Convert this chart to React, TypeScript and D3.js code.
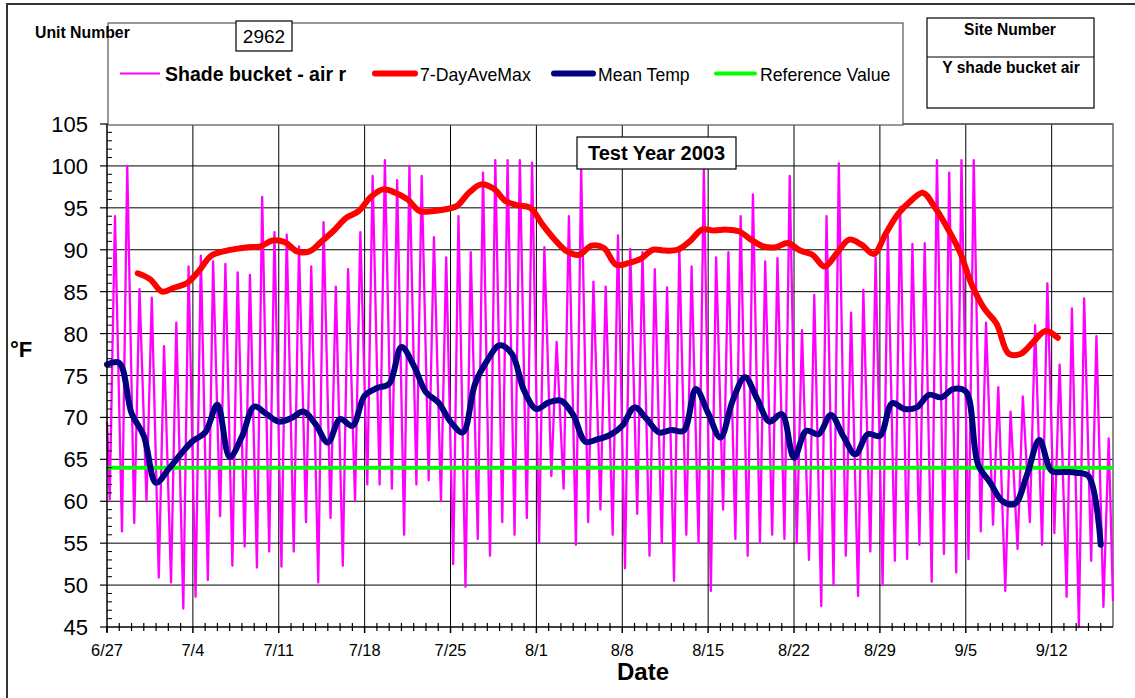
import { useEffect, useRef } from "react"
import * as d3 from "d3"

// days since 6/27/2003, axis runs 6/27 .. 9/17
const dayCount = 82
const xTickLabels = ["6/27", "7/4", "7/11", "7/18", "7/25", "8/1", "8/8", "8/15", "8/22", "8/29", "9/5", "9/12"]
const yTicks = [45, 50, 55, 60, 65, 70, 75, 80, 85, 90, 95, 100, 105]

// shade bucket air temp, one low (early morning) and one high (afternoon) per day
const dailyLow = [
  60.2, 56.4, 57.4, 60.0, 50.9, 50.3, 47.2, 48.6, 50.6, 58.2,
  52.3, 54.6, 52.1, 54.0, 52.2, 54.0, 57.5, 50.3, 58.0, 52.3,
  60.0, 62.0, 62.0, 61.5, 56.0, 62.0, 62.5, 60.0, 52.5, 49.8,
  55.5, 53.5, 57.5, 56.0, 58.0, 55.0, 63.0, 61.5, 54.8, 57.5,
  59.0, 56.0, 52.0, 58.5, 53.5, 55.0, 50.5, 56.0, 55.0, 49.3,
  59.0, 55.5, 53.5, 55.0, 56.0, 55.5, 55.0, 53.0, 47.5, 50.0,
  53.5, 48.7, 54.0, 50.0, 52.9, 53.1, 54.8, 50.4, 53.7, 51.5,
  53.1, 56.4, 57.2, 49.3, 54.3, 57.5, 54.8, 56.2, 48.6, 45.0,
  52.9, 47.4,
]
const dailyHigh = [
  94.0, 100.0, 85.3, 84.3, 78.5, 81.3, 88.0, 89.3, 88.6, 88.3,
  87.3, 87.0, 96.3, 92.1, 91.8, 90.4, 88.0, 93.3, 85.6, 87.7,
  92.1, 98.8, 100.7, 98.3, 100.0, 98.8, 91.5, 89.1, 94.0, 89.7,
  99.2, 100.7, 100.7, 100.7, 100.4, 90.3, 79.0, 94.0, 99.6, 86.2,
  85.6, 91.7, 90.1, 89.7, 87.7, 85.5, 90.1, 88.0, 99.6, 89.1,
  89.7, 94.0, 96.6, 88.6, 89.0, 98.8, 80.4, 84.6, 94.0, 100.3,
  82.5, 85.2, 89.1, 91.7, 95.1, 90.7, 90.8, 100.7, 99.2, 100.7,
  100.7, 81.3, 73.6, 70.7, 72.5, 81.0, 86.0, 76.3, 83.0, 84.2,
  79.7, 67.5,
]
const airFirst = 69.5
const airLast = 48.1

// daily mean, day 0 .. 81
const meanTemp = [
  76.3, 76.5, 70.5, 67.8, 62.2, 63.8, 65.6, 67.2, 68.2, 71.5,
  65.3, 67.7, 71.3, 70.4, 69.5, 69.9, 70.7, 69.2, 67.0, 69.8,
  69.0, 72.6, 73.5, 74.0, 78.4, 76.2, 73.0, 71.8, 69.5, 68.2,
  74.0, 76.8, 78.6, 77.6, 73.2, 71.0, 71.8, 72.0, 70.3, 67.1,
  67.4, 67.9, 69.0, 71.2, 69.8, 68.2, 68.5, 68.4, 73.4, 70.5,
  67.6, 72.0, 74.8, 72.2, 69.5, 70.4, 65.2, 68.4, 68.0, 70.3,
  67.8, 65.6, 68.0, 67.8, 71.7, 71.0, 71.2, 72.7, 72.4, 73.4,
  73.1, 64.4, 62.2, 60.0, 59.7, 63.2, 67.3, 63.6, 63.5, 63.4,
  63.0, 54.8,
]

// 7 day average of daily max, starts day 2.5
const aveMaxStart = 2.5
const aveMax7 = [
  87.2, 86.5, 85.0, 85.5, 86.0, 87.5, 89.3, 89.8, 90.1, 90.3,
  90.4, 91.1, 90.9, 89.8, 89.8, 91.0, 92.3, 93.8, 94.6, 96.3,
  97.2, 96.8, 96.0, 94.6, 94.6, 94.8, 95.2, 96.8, 97.8, 97.3,
  95.8, 95.3, 95.0, 93.0, 91.2, 89.8, 89.4, 90.5, 90.2, 88.2,
  88.4, 88.9, 90.0, 89.9, 90.0, 91.0, 92.4, 92.3, 92.4, 92.2,
  91.2, 90.4, 90.3, 90.8, 89.9, 89.4, 88.0, 89.6, 91.2, 90.6,
  89.5, 92.0, 94.3, 95.8, 96.8, 95.0, 92.6, 89.8, 85.8, 83.0,
  81.2, 77.6, 77.6, 79.0, 80.3, 79.5,
]

const referenceValue = 64

const seriesNames = ["Shade bucket - air r", "7-DayAveMax", "Mean Temp", "Reference Value"]
const seriesColors = ["#FF00FF", "#FF0000", "#000080", "#00FF00"]

const font = "'Liberation Sans', Arial, sans-serif"

export default function App() {
  const svgRef = useRef<SVGSVGElement>(null)

  useEffect(() => {
    if (!svgRef.current) return
    document.body.style.margin = "0"

    const svg = d3.select(svgRef.current)
    svg.selectAll("*").remove()

    const left = 107
    const right = 1113
    const top = 124
    const bottom = 627

    const x = d3.scaleLinear().domain([0, dayCount]).range([left, right])
    const y = d3.scaleLinear().domain([45, 105]).range([bottom, top])

    svg.append("rect").attr("width", 1135).attr("height", 698).attr("fill", "#fff")

    // outer chart frame
    svg
      .append("path")
      .attr("d", "M7,700 L7,4 L1140,4")
      .attr("fill", "none")
      .attr("stroke", "#333")
      .attr("stroke-width", 2)

    const grid = svg.append("g")
    grid
      .selectAll("line.h")
      .data(yTicks.slice(1))
      .enter()
      .append("line")
      .attr("x1", left)
      .attr("x2", right)
      .attr("y1", (d) => y(d))
      .attr("y2", (d) => y(d))
      .attr("stroke", "#000")
      .attr("stroke-width", 1)
    grid
      .selectAll("line.v")
      .data(xTickLabels.slice(1).map((_, i) => (i + 1) * 7))
      .enter()
      .append("line")
      .attr("x1", (d) => x(d))
      .attr("x2", (d) => x(d))
      .attr("y1", top)
      .attr("y2", bottom)
      .attr("stroke", "#000")
      .attr("stroke-width", 1)

    // plot border
    svg
      .append("path")
      .attr("d", `M${left},${top} L${right},${top} L${right},${bottom}`)
      .attr("fill", "none")
      .attr("stroke", "#666")
      .attr("stroke-width", 1.5)

    const plot = svg.append("g")

    const airPts: [number, number][] = [[0, airFirst]]
    dailyLow.forEach((lo, k) => {
      airPts.push([k + 0.22, lo])
      airPts.push([k + 0.65, dailyHigh[k]])
    })
    airPts.push([dayCount, airLast])

    const straight = d3
      .line<[number, number]>()
      .x((d) => x(d[0]))
      .y((d) => y(d[1]))
    const smooth = d3
      .line<[number, number]>()
      .x((d) => x(d[0]))
      .y((d) => y(d[1]))
      .curve(d3.curveCatmullRom.alpha(0.5))

    plot
      .append("path")
      .attr("d", straight(airPts))
      .attr("fill", "none")
      .attr("stroke", seriesColors[0])
      .attr("stroke-width", 2.3)
      .attr("stroke-linejoin", "round")

    plot
      .append("line")
      .attr("x1", x(0))
      .attr("x2", x(dayCount))
      .attr("y1", y(referenceValue))
      .attr("y2", y(referenceValue))
      .attr("stroke", seriesColors[3])
      .attr("stroke-width", 4)

    const redPts: [number, number][] = aveMax7.map((v, i) => [aveMaxStart + i, v])
    plot
      .append("path")
      .attr("d", smooth(redPts))
      .attr("fill", "none")
      .attr("stroke", seriesColors[1])
      .attr("stroke-width", 6)
      .attr("stroke-linecap", "round")
      .attr("stroke-linejoin", "round")

    const meanPts: [number, number][] = meanTemp.map((v, i) => [i, v])
    plot
      .append("path")
      .attr("d", smooth(meanPts))
      .attr("fill", "none")
      .attr("stroke", seriesColors[2])
      .attr("stroke-width", 6)
      .attr("stroke-linecap", "round")
      .attr("stroke-linejoin", "round")

    // axes
    const axes = svg.append("g").attr("stroke", "#000")
    axes.append("line").attr("x1", left).attr("x2", left).attr("y1", top).attr("y2", bottom + 5).attr("stroke-width", 1.5)
    axes.append("line").attr("x1", left).attr("x2", right).attr("y1", bottom).attr("y2", bottom).attr("stroke-width", 1.5)

    axes
      .selectAll("line.ymaj")
      .data(yTicks)
      .enter()
      .append("line")
      .attr("x1", left - 7)
      .attr("x2", left)
      .attr("y1", (d) => y(d))
      .attr("y2", (d) => y(d))
      .attr("stroke-width", 1.2)
    axes
      .selectAll("line.ymin")
      .data(d3.range(46, 105).filter((v) => v % 5 !== 0))
      .enter()
      .append("line")
      .attr("x1", left)
      .attr("x2", left + 5)
      .attr("y1", (d) => y(d))
      .attr("y2", (d) => y(d))
      .attr("stroke-width", 1)

    axes
      .selectAll("line.xmin")
      .data(d3.range(1, dayCount).filter((d) => d % 7 !== 0))
      .enter()
      .append("line")
      .attr("x1", (d) => x(d))
      .attr("x2", (d) => x(d))
      .attr("y1", bottom - 4)
      .attr("y2", bottom + 4)
      .attr("stroke-width", 1.2)
    axes
      .selectAll("line.xmaj")
      .data(xTickLabels.map((_, i) => i * 7))
      .enter()
      .append("line")
      .attr("x1", (d) => x(d))
      .attr("x2", (d) => x(d))
      .attr("y1", bottom)
      .attr("y2", bottom + 6)
      .attr("stroke-width", 1.5)

    svg
      .append("g")
      .selectAll("text")
      .data(yTicks)
      .enter()
      .append("text")
      .attr("x", 88)
      .attr("y", (d) => y(d) + 8)
      .attr("text-anchor", "end")
      .style("font-family", font)
      .style("font-size", "22px")
      .text((d) => d)

    svg
      .append("g")
      .selectAll("text")
      .data(xTickLabels)
      .enter()
      .append("text")
      .attr("x", (_, i) => x(i * 7))
      .attr("y", 656)
      .attr("text-anchor", "middle")
      .style("font-family", font)
      .style("font-size", "16.4px")
      .text((d) => d)

    svg
      .append("text")
      .attr("x", 643)
      .attr("y", 680)
      .attr("text-anchor", "middle")
      .style("font-family", font)
      .style("font-size", "24px")
      .style("font-weight", "bold")
      .text("Date")

    svg
      .append("text")
      .attr("x", 10)
      .attr("y", 357)
      .style("font-family", font)
      .style("font-size", "22px")
      .style("font-weight", "bold")
      .text("°F")

    // legend box
    const leg = svg.append("g")
    leg
      .append("rect")
      .attr("x", 108)
      .attr("y", 23)
      .attr("width", 795)
      .attr("height", 102)
      .attr("fill", "#fff")
      .attr("stroke", "#555")
      .attr("stroke-width", 1.2)
    const legItems = [
      { x1: 120, x2: 160, tx: 165, w: 2, bold: true, size: 19.5 },
      { x1: 375, x2: 415, tx: 420, w: 6, bold: false, size: 17.7 },
      { x1: 554, x2: 593, tx: 598, w: 6, bold: false, size: 17.6 },
      { x1: 716, x2: 755, tx: 760, w: 4, bold: false, size: 17.7 },
    ]
    legItems.forEach((it, i) => {
      leg
        .append("line")
        .attr("x1", it.x1)
        .attr("x2", it.x2)
        .attr("y1", 73.5)
        .attr("y2", 73.5)
        .attr("stroke", seriesColors[i])
        .attr("stroke-width", it.w)
        .attr("stroke-linecap", it.w > 2 ? "round" : "butt")
      leg
        .append("text")
        .attr("x", it.tx)
        .attr("y", 81)
        .style("font-family", font)
        .style("font-size", `${it.size}px`)
        .style("font-weight", it.bold ? "bold" : "normal")
        .text(seriesNames[i])
    })

    svg
      .append("text")
      .attr("x", 35)
      .attr("y", 38)
      .style("font-family", font)
      .style("font-size", "15.8px")
      .style("font-weight", "bold")
      .text("Unit Number")

    svg.append("rect").attr("x", 236).attr("y", 21).attr("width", 56).attr("height", 30).attr("fill", "#fff").attr("stroke", "#000").attr("stroke-width", 1.2)
    svg
      .append("text")
      .attr("x", 264)
      .attr("y", 43)
      .attr("text-anchor", "middle")
      .style("font-family", font)
      .style("font-size", "19px")
      .text("2962")

    // site box
    svg.append("rect").attr("x", 927).attr("y", 18).attr("width", 167).attr("height", 90).attr("fill", "#fff").attr("stroke", "#000").attr("stroke-width", 1.2)
    svg.append("line").attr("x1", 927).attr("x2", 1094).attr("y1", 57).attr("y2", 57).attr("stroke", "#000").attr("stroke-width", 1.2)
    svg
      .append("text")
      .attr("x", 1010)
      .attr("y", 35)
      .attr("text-anchor", "middle")
      .style("font-family", font)
      .style("font-size", "15.6px")
      .style("font-weight", "bold")
      .text("Site Number")
    svg
      .append("text")
      .attr("x", 1011)
      .attr("y", 73)
      .attr("text-anchor", "middle")
      .style("font-family", font)
      .style("font-size", "15.6px")
      .style("font-weight", "bold")
      .text("Y shade bucket air")

    svg.append("rect").attr("x", 577).attr("y", 137).attr("width", 159).attr("height", 32).attr("fill", "#fff").attr("stroke", "#000").attr("stroke-width", 1.2)
    svg
      .append("text")
      .attr("x", 656.5)
      .attr("y", 160)
      .attr("text-anchor", "middle")
      .style("font-family", font)
      .style("font-size", "20px")
      .style("font-weight", "bold")
      .text("Test Year 2003")
  }, [])

  return <svg ref={svgRef} width={1135} height={698} style={{ display: "block" }} />
}
